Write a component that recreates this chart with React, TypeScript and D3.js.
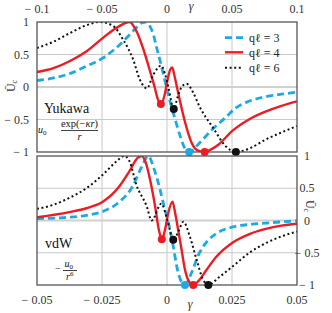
import * as d3 from 'd3'

// ---- data ----
type Pt = [number, number]

const qLabels = ['qℓ = 3', 'qℓ = 4', 'qℓ = 6']

// Yukawa panel, gamma in [-0.1, 0.1]
const yukawaQ3: Pt[] = [
  [-0.1, 0.1], [-0.087, 0.14], [-0.075, 0.205], [-0.062, 0.32], [-0.049, 0.45], [-0.0364, 0.65],
  [-0.0237, 0.91], [-0.02, 0.98], [-0.0165, 1.0], [-0.013, 0.93], [-0.0104, 0.8], [-0.0079, 0.6],
  [-0.0053, 0.4], [-0.0015, 0.09], [0.0023, -0.22], [0.006, -0.48], [0.0099, -0.74], [0.0136, -0.94],
  [0.017, -1.0], [0.025, -0.86], [0.035, -0.65], [0.045, -0.47], [0.053, -0.32], [0.063, -0.22],
  [0.0756, -0.15], [0.088, -0.11], [0.1, -0.08],
]
const yukawaQ4: Pt[] = [
  [-0.1, 0.23], [-0.0873, 0.29], [-0.0746, 0.4], [-0.0618, 0.55], [-0.049, 0.76], [-0.0364, 0.94],
  [-0.029, 1.0], [-0.023, 0.84], [-0.018, 0.57], [-0.013, 0.24], [-0.0095, 0.0], [-0.0072, -0.18],
  [-0.0047, -0.26], [-0.0018, -0.12], [0.0005, 0.12], [0.0025, 0.27], [0.004, 0.3], [0.006, 0.15],
  [0.0087, -0.1], [0.014, -0.55], [0.019, -0.86], [0.024, -0.98], [0.029, -1.0], [0.034, -0.96],
  [0.04, -0.88], [0.05, -0.68], [0.063, -0.5], [0.0757, -0.38], [0.088, -0.29], [0.1, -0.22],
]
const yukawaQ6: Pt[] = [
  [-0.1, 0.6], [-0.087, 0.7], [-0.0746, 0.83], [-0.062, 0.95], [-0.0517, 1.0], [-0.0415, 0.94],
  [-0.0338, 0.73], [-0.026, 0.42], [-0.021, 0.12], [-0.0155, -0.02], [-0.0105, 0.19], [-0.0045, 0.33],
  [-0.0015, 0.2], [0.001, 0.0], [0.0052, -0.34], [0.0082, -0.15], [0.0112, 0.0], [0.015, 0.05],
  [0.02, -0.08], [0.025, -0.3], [0.0355, -0.63], [0.0456, -0.92], [0.053, -1.0], [0.064, -0.94],
  [0.0757, -0.81], [0.088, -0.7], [0.1, -0.6],
]
const yukawaDots: [number, Pt][] = [
  [0, [0.017, -1.0]], [1, [-0.0047, -0.26]], [1, [0.029, -1.0]], [2, [0.0052, -0.34]], [2, [0.053, -1.0]],
]

// vdW panel, gamma in [-0.05, 0.05]
const vdwQ3: Pt[] = [
  [-0.05, 0.03], [-0.0376, 0.05], [-0.031, 0.08], [-0.0247, 0.14], [-0.0183, 0.29], [-0.0132, 0.53],
  [-0.01, 0.81], [-0.0072, 1.0], [-0.005, 0.8], [-0.0028, 0.5], [-0.001, 0.2], [0.0012, -0.15],
  [0.0024, -0.4], [0.0037, -0.7], [0.0052, -0.92], [0.0069, -1.0], [0.009, -0.85], [0.0125, -0.5],
  [0.016, -0.3], [0.019, -0.2], [0.0253, -0.1], [0.032, -0.06], [0.038, -0.04], [0.05, -0.005],
]
const vdwQ4: Pt[] = [
  [-0.05, 0.05], [-0.0376, 0.13], [-0.031, 0.19], [-0.0247, 0.29], [-0.0183, 0.53], [-0.0145, 0.76],
  [-0.0113, 0.97], [-0.0097, 1.0], [-0.0082, 0.9], [-0.0065, 0.63], [-0.0045, 0.2], [-0.0032, -0.13],
  [-0.002, -0.29], [-0.0008, -0.15], [0.0005, 0.12], [0.0021, 0.29], [0.0033, 0.08], [0.0044, -0.17],
  [0.0056, -0.45], [0.0069, -0.76], [0.0085, -0.95], [0.0101, -1.0], [0.0125, -0.92], [0.0153, -0.76],
  [0.0188, -0.57], [0.0253, -0.34], [0.0317, -0.21], [0.038, -0.13], [0.044, -0.08], [0.05, -0.05],
]
const vdwQ6: Pt[] = [
  [-0.05, 0.18], [-0.044, 0.24], [-0.0376, 0.35], [-0.031, 0.5], [-0.0247, 0.71], [-0.0196, 0.91],
  [-0.0164, 1.0], [-0.0142, 0.9], [-0.012, 0.58], [-0.0078, 0.22], [-0.0059, 0.0], [-0.0022, 0.26],
  [0.0002, 0.0], [0.0024, -0.3], [0.0043, -0.18], [0.0063, -0.02], [0.0088, -0.25], [0.0114, -0.61],
  [0.0137, -0.9], [0.0159, -1.0], [0.02, -0.88], [0.0253, -0.71], [0.0317, -0.5], [0.038, -0.35],
  [0.05, -0.17],
]
const vdwDots: [number, Pt][] = [
  [0, [0.0069, -1.0]], [1, [-0.002, -0.29]], [1, [0.0101, -1.0]], [2, [0.0024, -0.3]], [2, [0.0159, -1.0]],
]

const topTicks = [-0.1, -0.05, 0, 0.05, 0.1]
const topTickLabels = ['− 0.1', '− 0.05', '0', '0.05', '0.1']
const bottomTicks = [-0.05, -0.025, 0, 0.025, 0.05]
const bottomTickLabels = ['− 0.05', '− 0.025', '0', '0.025', '0.05']
const yTicks = [1, 0.5, 0, -0.5, -1]
const yTickLabels = ['1', '0.5', '0', '− 0.5', '− 1']

// ---- styles ----
const colors = ['#1fa9e1', '#ec1c24', '#111111']
const dashes = ['7 4', 'none', '2 2.6']
const widths = [2.8, 2.4, 2]
const font = "'Liberation Serif', 'DejaVu Serif', serif"

const left = 37
const right = 297
const xTop = d3.scaleLinear().domain([-0.1, 0.1]).range([left, right])
const xBot = d3.scaleLinear().domain([-0.05, 0.05]).range([left, right])
const yTop = d3.scaleLinear().domain([-1, 1]).range([152, 22])
const yBot = d3.scaleLinear().domain([-1, 1]).range([285, 156])

function Panel({ id, x, y, series, dots, xGrid }: {
  id: string
  x: d3.ScaleLinear<number, number>
  y: d3.ScaleLinear<number, number>
  series: Pt[][]
  dots: [number, Pt][]
  xGrid: number[]
}) {
  const line = d3.line<Pt>().x(d => x(d[0])).y(d => y(d[1])).curve(d3.curveMonotoneX)
  const [y0, y1] = y.range()
  return (
    <g>
      <defs>
        <clipPath id={id}>
          <rect x={left} y={y1} width={right - left} height={y0 - y1} />
        </clipPath>
      </defs>
      {xGrid.slice(1, -1).map(v => (
        <line key={'gx' + v} x1={x(v)} x2={x(v)} y1={y1} y2={y0} stroke="#c8c8c8" strokeWidth={1} />
      ))}
      {yTicks.slice(1, -1).map(v => (
        <line key={'gy' + v} x1={left} x2={right} y1={y(v)} y2={y(v)}
          stroke={v === 0 ? '#d0d0d0' : '#c8c8c8'} strokeWidth={v === 0 ? 1.8 : 1} />
      ))}
      <g clipPath={`url(#${id})`}>
        {series.map((s, i) => (
          <path key={i} d={line(s) || ''} fill="none" stroke={colors[i]} strokeWidth={widths[i]}
            strokeDasharray={dashes[i]} />
        ))}
      </g>
      <rect x={left} y={y1} width={right - left} height={y0 - y1} fill="none" stroke="#555" strokeWidth={1.3} />
      {dots.map(([i, p], k) => (
        <circle key={k} cx={x(p[0])} cy={y(p[1])} r={4} fill={colors[i]} />
      ))}
    </g>
  )
}

export default function App() {
  return (
    <svg width={332} height={313} style={{ position: 'absolute', left: 0, top: 0, background: '#fff' }}
      fontFamily={font}>
      <Panel id="clipTop" x={xTop} y={yTop} series={[yukawaQ3, yukawaQ4, yukawaQ6]} dots={yukawaDots} xGrid={topTicks} />
      <Panel id="clipBot" x={xBot} y={yBot} series={[vdwQ3, vdwQ4, vdwQ6]} dots={vdwDots} xGrid={bottomTicks} />

      {/* top axis */}
      {topTicks.map((v, i) => (
        <text key={'tt' + i} x={xTop(v)} y={13} fontSize={12} textAnchor="middle" fill="#333">{topTickLabels[i]}</text>
      ))}
      <text x={191} y={10} fontSize={12} fontStyle="italic" textAnchor="middle" fill="#333">γ</text>

      {/* bottom axis */}
      {bottomTicks.map((v, i) => (
        <text key={'bt' + i} x={xBot(v)} y={303.5} fontSize={12} textAnchor="middle" fill="#333">{bottomTickLabels[i]}</text>
      ))}
      <text x={190} y={308} fontSize={12} fontStyle="italic" textAnchor="middle" fill="#333">γ</text>

      {/* left axis (top panel) */}
      {yTicks.map((v, i) => (
        <text key={'ly' + i} x={29} y={yTop(v) + 4} fontSize={12} textAnchor="end" fill="#333">{yTickLabels[i]}</text>
      ))}
      <text transform="translate(15,86) rotate(-90)" fontSize={12} textAnchor="middle" fill="#333">
        Ū<tspan fontSize={8} dy={2}>c</tspan>
      </text>

      {/* right axis (bottom panel) */}
      {yTicks.map((v, i) => (
        <text key={'ry' + i} x={307} y={yBot(v) + 4} fontSize={12} textAnchor="middle" fill="#333">{yTickLabels[i]}</text>
      ))}
      <text transform="translate(306,206) rotate(90)" fontSize={12} textAnchor="middle" fill="#333">
        Ū<tspan fontSize={8} dy={2}>c</tspan>
      </text>

      {/* legend */}
      {qLabels.map((q, i) => {
        const ly = [37.7, 52.3, 67.7][i]
        return (
          <g key={q}>
            <line x1={225} x2={243} y1={ly} y2={ly} stroke={colors[i]} strokeWidth={widths[i]} strokeDasharray={dashes[i]} />
            <text x={249} y={ly + 4.5} fontSize={12} fill="#222">{q}</text>
          </g>
        )
      })}

      {/* Yukawa annotation */}
      <text x={44} y={113} fontSize={14} fill="#111">Yukawa</text>
      <text x={38} y={133} fontSize={10} fontStyle="italic" fill="#111">u<tspan fontSize={7} fontStyle="normal" dy={2}>0</tspan></text>
      <text x={79.5} y={127} fontSize={10.5} textAnchor="middle" fill="#111">
        exp(−<tspan fontStyle="italic">κr</tspan>)
      </text>
      <line x1={61} x2={98} y1={130.5} y2={130.5} stroke="#111" strokeWidth={0.8} />
      <text x={79.5} y={140} fontSize={10.5} fontStyle="italic" textAnchor="middle" fill="#111">r</text>

      {/* vdW annotation */}
      <text x={45} y={248} fontSize={14} fill="#111">vdW</text>
      <text x={55} y={272} fontSize={10} fill="#111">−</text>
      <text x={64.5} y={267} fontSize={10} fontStyle="italic" fill="#111">u<tspan fontSize={7} fontStyle="normal" dy={2}>0</tspan></text>
      <line x1={63} x2={77} y1={270.5} y2={270.5} stroke="#111" strokeWidth={0.8} />
      <text x={66} y={280} fontSize={10} fontStyle="italic" fill="#111">r<tspan fontSize={7} fontStyle="normal" dy={-4}>6</tspan></text>
    </svg>
  )
}
